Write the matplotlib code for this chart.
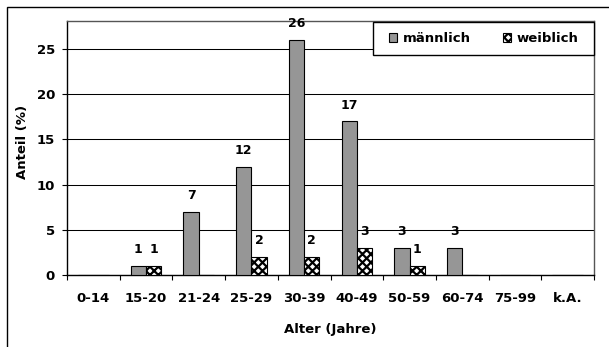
"""Altersverteilung nach Geschlecht"""

import matplotlib.pyplot as plt
import numpy as np
from matplotlib.patches import Rectangle

plt.rcParams["font.family"] = ["DejaVu Sans"]
plt.rcParams["font.weight"] = "bold"
plt.rcParams["hatch.linewidth"] = 1.6

age_groups = ["0-14", "15-20", "21-24", "25-29", "30-39",
              "40-49", "50-59", "60-74", "75-99", "k.A."]
male = [0, 1, 7, 12, 26, 17, 3, 3, 0, 0]
female = [0, 1, 0, 2, 2, 3, 1, 0, 0, 0]

W, H = 609, 347


def fx(px: float) -> float:
    return px / W


def fy(py: float) -> float:
    return 1 - py / H


def main() -> None:
    fig = plt.figure(figsize=(W / 100, H / 100), dpi=100)
    ax = fig.add_axes([fx(67), fy(275), fx(594 - 67), (275 - 21) / H])

    # outer frame, only left and top edges fall inside the image
    fig.patches.append(Rectangle((fx(7), -0.1), 1.2, fy(7) + 0.1,
                                 transform=fig.transFigure, fill=False,
                                 edgecolor="black", linewidth=1.0))

    x = np.arange(len(age_groups))
    w = 0.29
    ax.bar(x - w / 2, male, width=w, color="#969696", edgecolor="black",
           linewidth=0.8, label="männlich", zorder=3)
    ax.bar(x + w / 2, female, width=w, color="white", edgecolor="black",
           hatch="xxxx", linewidth=0.8, label="weiblich", zorder=3)

    for xi, v in zip(x, male):
        if v:
            ax.text(xi - w / 2, v + 1.05, str(v), ha="center", va="bottom",
                    fontsize=9, fontweight="bold")
    for xi, v in zip(x, female):
        if v:
            ax.text(xi + w / 2, v + 1.05, str(v), ha="center", va="bottom",
                    fontsize=9, fontweight="bold")

    ax.set_xlim(-0.5, len(age_groups) - 0.5)
    ax.set_ylim(0, 28.1)
    ax.set_yticks([0, 5, 10, 15, 20, 25])
    ax.set_xticks(x)
    ax.set_xticklabels(age_groups)
    ax.set_xticks(np.arange(len(age_groups) + 1) - 0.5, minor=True)
    ax.tick_params(axis="x", which="major", length=0, pad=12.5, labelsize=9.5)
    ax.tick_params(axis="x", which="minor", length=3.6, width=0.8)
    ax.tick_params(axis="y", length=3.6, width=0.8, labelsize=9.5, pad=5)
    ax.yaxis.grid(True, color="black", linewidth=0.75, zorder=0)
    ax.set_axisbelow(True)
    for s in ax.spines.values():
        s.set_linewidth(1.0)
        s.set_color("black")
    ax.spines["top"].set_color("#555555")
    ax.spines["right"].set_color("#555555")

    fig.text(fx(330.5), fy(330), "Alter (Jahre)", ha="center", va="center",
             fontsize=9.5, fontweight="bold")
    fig.text(fx(23), fy(142), "Anteil (%)", ha="center", va="center",
             rotation=90, fontsize=9.5, fontweight="bold")

    # legend box drawn separately so its size can be set in pixels
    ax.add_patch(Rectangle((fx(373), fy(55)), fx(594 - 373), (55 - 22) / H,
                           transform=fig.transFigure, facecolor="white",
                           edgecolor="black", linewidth=1.0, zorder=4,
                           clip_on=False))
    leg = ax.legend(ncol=2, loc="center",
                    bbox_to_anchor=(fx(484), fy(38.5)),
                    bbox_transform=fig.transFigure,
                    fontsize=9.5, frameon=False, borderpad=0,
                    handlelength=0.62, handleheight=0.62,
                    handletextpad=0.45, columnspacing=2.4)
    leg.set_zorder(5)

    fig.savefig("out.png", dpi=100)
    plt.close(fig)


if __name__ == "__main__":
    main()
